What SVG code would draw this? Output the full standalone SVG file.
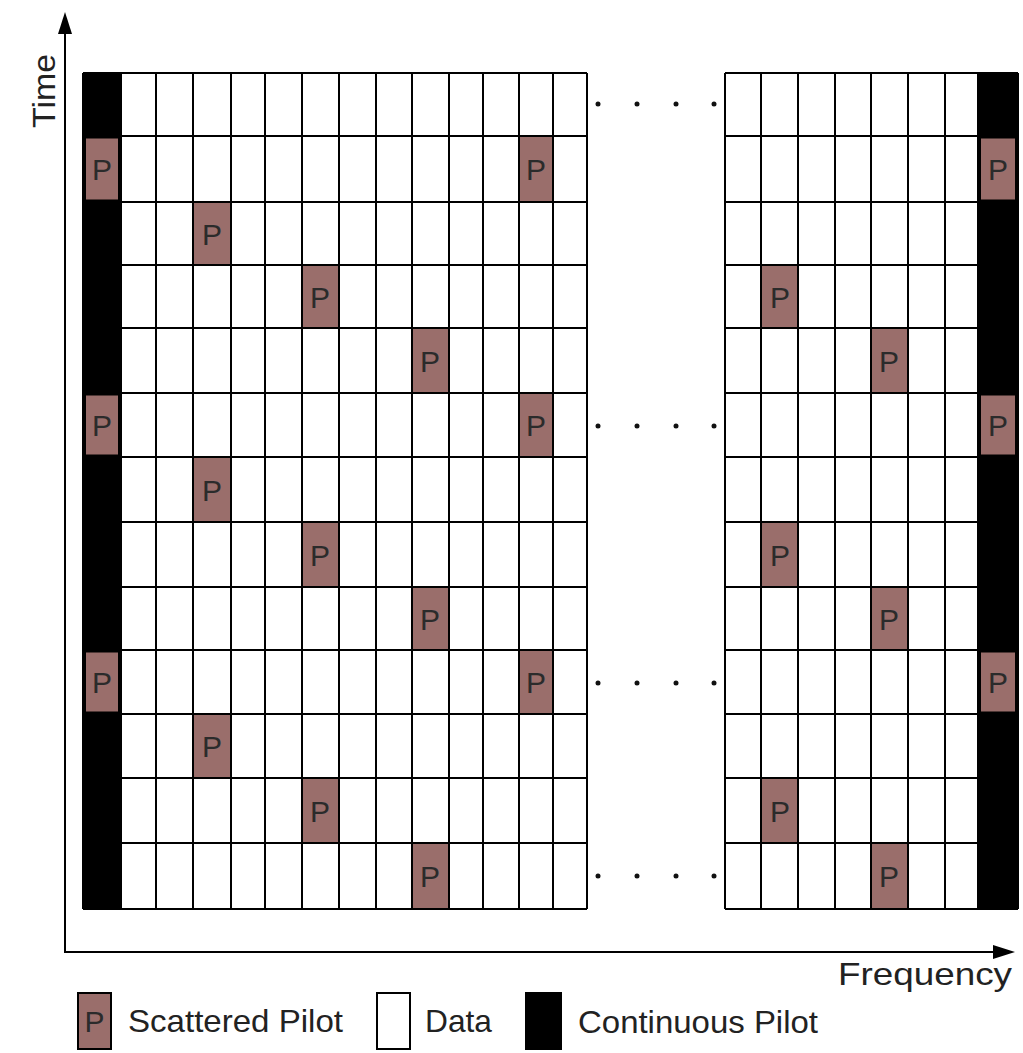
<svg xmlns="http://www.w3.org/2000/svg" width="1023" height="1053" viewBox="0 0 1023 1053">
<defs>
<style>
.grid{fill:none;stroke:#000;stroke-width:2}
.bg{fill:#fff}
.cp{fill:#000}
.sp{fill:#9a6e6b;stroke:#000;stroke-width:2}
.pt{font-family:"Liberation Sans",Arial,sans-serif;font-size:30px;fill:#2b2b2b;text-anchor:middle}
.lbl{font-family:"Liberation Sans",Arial,sans-serif;font-size:32px;fill:#222}
.dot{fill:#111}
.axis{stroke:#000;stroke-width:2;fill:none}
</style>
<marker id="arr" markerUnits="userSpaceOnUse" markerWidth="22" markerHeight="14" refX="12" refY="7" orient="auto">
<path d="M0,0 L22,7 L0,14 z" fill="#000"/>
</marker>
</defs>
<rect width="1023" height="1053" fill="#fff"/>

<g id="axes">
<line class="axis" x1="65" y1="953" x2="65" y2="22" marker-end="url(#arr)"/>
<line class="axis" x1="64" y1="952" x2="1005" y2="952" marker-end="url(#arr)"/>
<text class="lbl" transform="translate(55,128) rotate(-90)" textLength="74" lengthAdjust="spacingAndGlyphs">Time</text>
<text class="lbl" x="838" y="985" textLength="174" lengthAdjust="spacingAndGlyphs">Frequency</text>
</g>

<g id="grid-left">
<rect class="bg" x="83" y="73" width="504" height="836"/>
<rect class="cp" x="83" y="73" width="38" height="836"/>
<g id="pilots-left">
<rect class="sp" x="84.5" y="137" width="35" height="64"/>
<rect class="sp" x="84.5" y="394" width="35" height="62"/>
<rect class="sp" x="84.5" y="651" width="35" height="62"/>
<rect class="sp" x="519" y="136" width="34" height="66"/>
<rect class="sp" x="519" y="393" width="34" height="64"/>
<rect class="sp" x="519" y="650" width="34" height="64"/>
<rect class="sp" x="193" y="202" width="38" height="63"/>
<rect class="sp" x="193" y="457" width="38" height="65"/>
<rect class="sp" x="193" y="714" width="38" height="64"/>
<rect class="sp" x="302" y="265" width="37" height="63"/>
<rect class="sp" x="302" y="522" width="37" height="65"/>
<rect class="sp" x="302" y="778" width="37" height="65"/>
<rect class="sp" x="412" y="328" width="37" height="65"/>
<rect class="sp" x="412" y="587" width="37" height="63"/>
<rect class="sp" x="412" y="843" width="37" height="66"/>
</g>
<path class="grid" d="M83,73V909M121,73V909M156,73V909M193,73V909M231,73V909M265,73V909M302,73V909M339,73V909M376,73V909M412,73V909M449,73V909M483,73V909M519,73V909M553,73V909M587,73V909
M83,73H587M83,136H587M83,202H587M83,265H587M83,328H587M83,393H587M83,457H587M83,522H587M83,587H587M83,650H587M83,714H587M83,778H587M83,843H587M83,909H587"/>
<g id="pilots-left-edge">
<rect class="sp" x="85" y="137.5" width="34" height="63"/>
<rect class="sp" x="85" y="394.5" width="34" height="61"/>
<rect class="sp" x="85" y="651.5" width="34" height="61"/>
</g>
<g id="plabels-left">
<text class="pt" x="102" y="180">P</text>
<text class="pt" x="102" y="436">P</text>
<text class="pt" x="102" y="693">P</text>
<text class="pt" x="536" y="180">P</text>
<text class="pt" x="536" y="436">P</text>
<text class="pt" x="536" y="693">P</text>
<text class="pt" x="212" y="245">P</text>
<text class="pt" x="212" y="501">P</text>
<text class="pt" x="212" y="757">P</text>
<text class="pt" x="320" y="308">P</text>
<text class="pt" x="320" y="566">P</text>
<text class="pt" x="320" y="822">P</text>
<text class="pt" x="430" y="372">P</text>
<text class="pt" x="430" y="630">P</text>
<text class="pt" x="430" y="887">P</text>
</g>
</g>

<g id="grid-right">
<rect class="bg" x="725" y="73" width="293" height="836"/>
<rect class="cp" x="978" y="73" width="40" height="836"/>
<g id="pilots-right">
<rect class="sp" x="761" y="265" width="37" height="63"/>
<rect class="sp" x="761" y="522" width="37" height="65"/>
<rect class="sp" x="761" y="778" width="37" height="65"/>
<rect class="sp" x="871" y="328" width="37" height="65"/>
<rect class="sp" x="871" y="587" width="37" height="63"/>
<rect class="sp" x="871" y="843" width="37" height="66"/>
</g>
<path class="grid" d="M725,73V909M761,73V909M798,73V909M835,73V909M871,73V909M908,73V909M945,73V909M978,73V909M1018,73V909
M725,73H1018M725,136H1018M725,202H1018M725,265H1018M725,328H1018M725,393H1018M725,457H1018M725,522H1018M725,587H1018M725,650H1018M725,714H1018M725,778H1018M725,843H1018M725,909H1018"/>
<g id="pilots-right-edge">
<rect class="sp" x="980" y="137.5" width="36" height="63"/>
<rect class="sp" x="980" y="394.5" width="36" height="61"/>
<rect class="sp" x="980" y="651.5" width="36" height="61"/>
</g>
<g id="plabels-right">
<text class="pt" x="998" y="180">P</text>
<text class="pt" x="998" y="436">P</text>
<text class="pt" x="998" y="693">P</text>
<text class="pt" x="780" y="308">P</text>
<text class="pt" x="780" y="566">P</text>
<text class="pt" x="780" y="822">P</text>
<text class="pt" x="889" y="372">P</text>
<text class="pt" x="889" y="630">P</text>
<text class="pt" x="889" y="887">P</text>
</g>
</g>

<g id="ellipses">
<circle class="dot" cx="598" cy="104" r="2.5"/><circle class="dot" cx="637" cy="104" r="2.5"/><circle class="dot" cx="676" cy="104" r="2.5"/><circle class="dot" cx="714" cy="104" r="2.5"/>
<circle class="dot" cx="598" cy="426" r="2.5"/><circle class="dot" cx="637" cy="426" r="2.5"/><circle class="dot" cx="676" cy="426" r="2.5"/><circle class="dot" cx="714" cy="426" r="2.5"/>
<circle class="dot" cx="598" cy="683" r="2.5"/><circle class="dot" cx="637" cy="683" r="2.5"/><circle class="dot" cx="676" cy="683" r="2.5"/><circle class="dot" cx="714" cy="683" r="2.5"/>
<circle class="dot" cx="598" cy="876" r="2.5"/><circle class="dot" cx="637" cy="876" r="2.5"/><circle class="dot" cx="676" cy="876" r="2.5"/><circle class="dot" cx="714" cy="876" r="2.5"/>
</g>

<g id="legend">
<g id="legend-scattered">
<rect class="sp" x="78" y="993" width="33" height="56"/>
<text class="pt" x="94.5" y="1032">P</text>
<text class="lbl" x="128" y="1032" textLength="215" lengthAdjust="spacingAndGlyphs">Scattered Pilot</text>
</g>
<g id="legend-data">
<rect x="377" y="993" width="33" height="56" fill="#fff" stroke="#000" stroke-width="2"/>
<text class="lbl" x="425" y="1032" textLength="67" lengthAdjust="spacingAndGlyphs">Data</text>
</g>
<g id="legend-continuous">
<rect class="cp" x="525" y="992" width="37" height="58"/>
<text class="lbl" x="578" y="1033" textLength="240" lengthAdjust="spacingAndGlyphs">Continuous Pilot</text>
</g>
</g>
</svg>
